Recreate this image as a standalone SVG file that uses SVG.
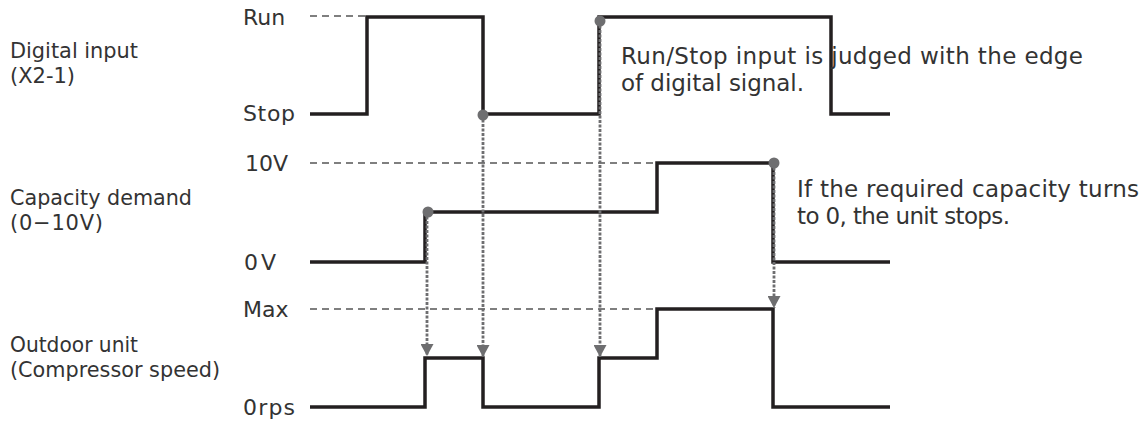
<svg xmlns="http://www.w3.org/2000/svg" width="1147" height="421" viewBox="0 0 1147 421">
<style>
text{font-family:"DejaVu Sans","Liberation Sans",sans-serif;font-size:21px;fill:#333}
text.lvl{font-size:22px}
text.note{font-size:23px}
.sig{fill:none;stroke:#231f20;stroke-width:3.5;stroke-linejoin:miter}
.ref{fill:none;stroke:#555;stroke-width:1.5;stroke-dasharray:7,5}
.arr{fill:none;stroke:#6e6e70;stroke-width:2.8;stroke-dasharray:3,1.5}
.dot{fill:#6e6e70}
</style>
<defs>
<marker id="ah" viewBox="0 0 12 13" refX="12" refY="6.5" markerWidth="12" markerHeight="13" markerUnits="userSpaceOnUse" orient="auto">
<path d="M0,0 L12,6.5 L0,13 Z" fill="#6e6e70"/>
</marker>
</defs>
<g id="labels">
<text x="10" y="58" textLength="128" lengthAdjust="spacingAndGlyphs">Digital input</text>
<text x="10" y="83" textLength="65" lengthAdjust="spacing">(X2-1)</text>
<text x="10" y="205" textLength="182" lengthAdjust="spacingAndGlyphs">Capacity demand</text>
<text x="10" y="230" textLength="93" lengthAdjust="spacing">(0−10V)</text>
<text x="10" y="352" textLength="128" lengthAdjust="spacingAndGlyphs">Outdoor unit</text>
<text x="10" y="377" textLength="210" lengthAdjust="spacingAndGlyphs">(Compressor speed)</text>
</g>
<g id="levels">
<text class="lvl" x="243" y="25">Run</text>
<text class="lvl" x="243" y="121" textLength="52" lengthAdjust="spacing">Stop</text>
<text class="lvl" x="245" y="171">10V</text>
<text class="lvl" x="244" y="270" textLength="32" lengthAdjust="spacing">0V</text>
<text class="lvl" x="243" y="317">Max</text>
<text class="lvl" x="243" y="415" textLength="52" lengthAdjust="spacing">0rps</text>
</g>
<g id="reference-lines">
<line class="ref" x1="310" y1="16" x2="367" y2="16"/>
<line class="ref" x1="310" y1="163" x2="657" y2="163"/>
<line class="ref" x1="310" y1="309" x2="657" y2="309"/>
</g>
<g id="signal-digital-input">
<path class="sig" d="M310,114 H367 V17 H483 V114 H599 V17 H831 V114 H890"/>
</g>
<g id="signal-capacity-demand">
<path class="sig" d="M310,262 H425 V212 H657 V163 H773 V262 H890"/>
</g>
<g id="signal-outdoor-unit">
<path class="sig" d="M310,407 H425 V358 H483 V407 H599 V358 H657 V309 H773 V407 H890"/>
</g>
<g id="connectors">
<line class="arr" x1="427" y1="212" x2="427" y2="356" marker-end="url(#ah)"/>
<line class="arr" x1="483" y1="115" x2="483" y2="357" marker-end="url(#ah)"/>
<line class="arr" x1="600" y1="21" x2="600" y2="357" marker-end="url(#ah)"/>
<line class="arr" x1="774" y1="163" x2="774" y2="308" marker-end="url(#ah)"/>
<circle class="dot" cx="428" cy="212" r="5.5"/>
<circle class="dot" cx="483" cy="115" r="5.5"/>
<circle class="dot" cx="600" cy="21" r="5.5"/>
<circle class="dot" cx="774" cy="163" r="5.5"/>
</g>
<g id="notes">
<text class="note" x="621" y="64" textLength="462" lengthAdjust="spacing">Run/Stop input is judged with the edge</text>
<text class="note" x="621" y="91" textLength="183" lengthAdjust="spacing">of digital signal.</text>
<text class="note" x="797" y="197" textLength="342" lengthAdjust="spacing">If the required capacity turns</text>
<text class="note" x="797" y="224" textLength="213" lengthAdjust="spacing">to 0, the unit stops.</text>
</g>
</svg>
